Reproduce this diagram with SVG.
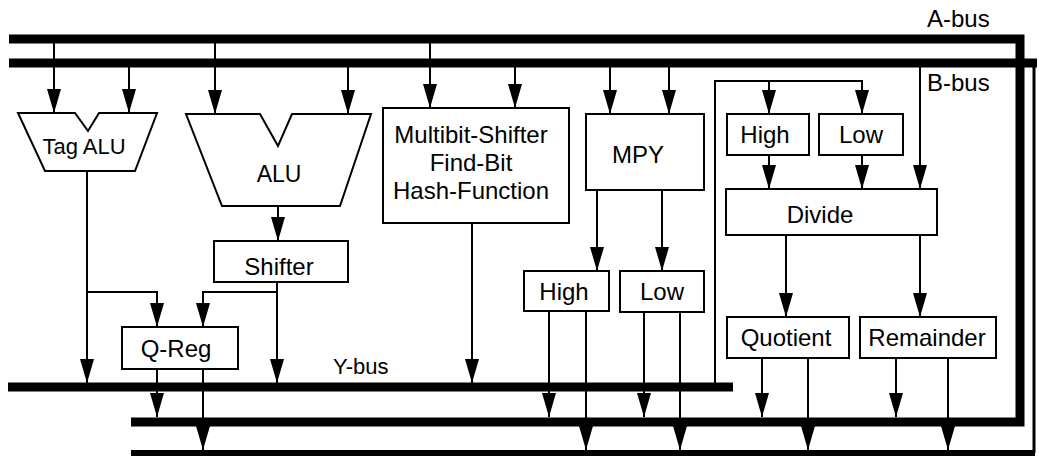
<svg xmlns="http://www.w3.org/2000/svg" width="1039" height="458" viewBox="0 0 1039 458">
<style>
.box{fill:#fff;stroke:#000;stroke-width:2}
.t{font-family:"Liberation Sans",Arial,sans-serif;font-size:24px;fill:#000;text-anchor:middle}
.lbl{font-family:"Liberation Sans",Arial,sans-serif;font-size:24px;fill:#000}
.c{fill:none;stroke:#000;stroke-width:2}
.a{fill:none;stroke:#000;stroke-width:2;marker-end:url(#ah)}
.bus{fill:none;stroke:#000;stroke-width:9;stroke-linejoin:miter}
</style>
<defs>
<marker id="ah" markerUnits="userSpaceOnUse" markerWidth="24" markerHeight="14" viewBox="0 0 24 14" refX="24" refY="7" orient="auto">
<path d="M0,0 L24,7 L0,14 Z" fill="#000"/>
</marker>
</defs>
<rect width="1039" height="458" fill="#fff"/>
<g id="buses">
<g id="a-bus">
<path class="bus" d="M9,39 H1020 V422 H131"/>
<text class="lbl" x="927" y="27">A-bus</text>
</g>
<g id="b-bus">
<path class="bus" d="M9,63 H1037"/>
<path fill="none" stroke="#000" stroke-width="3" d="M1034,63 V453"/>
<path fill="none" stroke="#000" stroke-width="6" d="M131,453 H1035"/>
<text class="lbl" x="927" y="91">B-bus</text>
</g>
<g id="y-bus">
<path class="bus" d="M8,387 H733"/>
<text class="lbl" x="333" y="374" style="font-size:22px">Y-bus</text>
</g>
</g>
<g id="connectors">
<line class="a" x1="54" y1="39" x2="54" y2="113"/>
<line class="a" x1="129" y1="63" x2="129" y2="113"/>
<line class="a" x1="215" y1="39" x2="215" y2="114"/>
<line class="a" x1="348" y1="63" x2="348" y2="114"/>
<line class="a" x1="430" y1="39" x2="430" y2="108"/>
<line class="a" x1="515" y1="63" x2="515" y2="108"/>
<line class="a" x1="610" y1="63" x2="610" y2="114"/>
<line class="a" x1="669" y1="63" x2="669" y2="114"/>
<line class="a" x1="920" y1="63" x2="920" y2="189"/>
<path class="a" d="M715,383 V81 H862 V114"/>
<line class="a" x1="769" y1="81" x2="769" y2="114"/>
<line class="a" x1="278" y1="206" x2="278" y2="241"/>
<line class="a" x1="87" y1="171" x2="87" y2="383"/>
<path class="a" d="M87,292 H157 V327"/>
<line class="a" x1="277" y1="282" x2="277" y2="383"/>
<path class="a" d="M277,292 H203 V327"/>
<line class="a" x1="157" y1="369" x2="157" y2="417"/>
<line class="a" x1="203" y1="369" x2="203" y2="450"/>
<line class="a" x1="472" y1="223" x2="472" y2="383"/>
<line class="a" x1="597" y1="190" x2="597" y2="271"/>
<line class="a" x1="662" y1="190" x2="662" y2="271"/>
<line class="a" x1="549" y1="311" x2="549" y2="417"/>
<line class="a" x1="586" y1="311" x2="586" y2="450"/>
<line class="a" x1="644" y1="312" x2="644" y2="417"/>
<line class="a" x1="680" y1="312" x2="680" y2="450"/>
<line class="a" x1="769" y1="155" x2="769" y2="189"/>
<line class="a" x1="862" y1="155" x2="862" y2="189"/>
<line class="a" x1="786" y1="235" x2="786" y2="317"/>
<line class="a" x1="920" y1="235" x2="920" y2="317"/>
<line class="a" x1="762" y1="358" x2="762" y2="417"/>
<line class="a" x1="808" y1="358" x2="808" y2="450"/>
<line class="a" x1="896" y1="358" x2="896" y2="417"/>
<line class="a" x1="948" y1="358" x2="948" y2="450"/>
</g>
<g id="tag-alu">
<path class="box" d="M18,113 L75,113 L88,131 L99,113 L157,113 L135,171 L45,171 Z"/>
<text class="t" x="84" y="154" style="font-size:22px">Tag ALU</text>
</g>
<g id="alu">
<path class="box" d="M186,114 L260,114 L278,146 L292,114 L371,114 L340,206 L222,206 Z"/>
<text class="t" x="279" y="182" style="font-size:23px">ALU</text>
</g>
<g id="shifter">
<rect class="box" x="214" y="241" width="134" height="41"/>
<text class="t" x="279" y="275">Shifter</text>
</g>
<g id="q-reg">
<rect class="box" x="122" y="327" width="116" height="42"/>
<text class="t" x="176" y="357">Q-Reg</text>
</g>
<g id="multibit">
<rect class="box" x="383" y="108" width="186" height="115"/>
<text class="t" x="471" y="143">Multibit-Shifter</text>
<text class="t" x="471" y="171">Find-Bit</text>
<text class="t" x="471" y="199">Hash-Function</text>
</g>
<g id="mpy">
<rect class="box" x="586" y="114" width="118" height="76"/>
<text class="t" x="638" y="163">MPY</text>
</g>
<g id="mpy-high">
<rect class="box" x="524" y="271" width="85" height="40"/>
<text class="t" x="564" y="300">High</text>
</g>
<g id="mpy-low">
<rect class="box" x="620" y="271" width="84" height="41"/>
<text class="t" x="662" y="300">Low</text>
</g>
<g id="div-high">
<rect class="box" x="727" y="114" width="82" height="41"/>
<text class="t" x="765" y="143">High</text>
</g>
<g id="div-low">
<rect class="box" x="819" y="114" width="84" height="41"/>
<text class="t" x="861" y="143">Low</text>
</g>
<g id="divide">
<rect class="box" x="726" y="189" width="211" height="46"/>
<text class="t" x="820" y="223">Divide</text>
</g>
<g id="quotient">
<rect class="box" x="727" y="317" width="122" height="41"/>
<text class="t" x="786" y="346">Quotient</text>
</g>
<g id="remainder">
<rect class="box" x="860" y="317" width="136" height="41"/>
<text class="t" x="927" y="346">Remainder</text>
</g>
</svg>
